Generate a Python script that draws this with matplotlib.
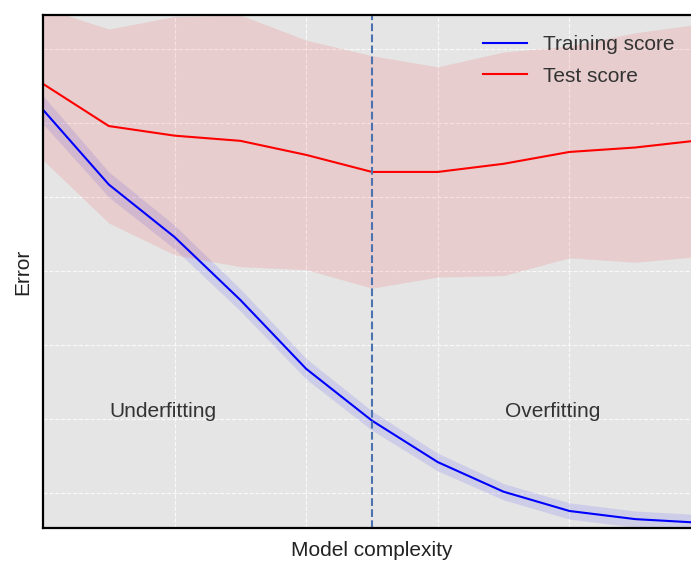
import numpy as np
import matplotlib
matplotlib.use('Agg')
import matplotlib.pyplot as plt

plt.rcParams['font.family'] = ['Liberation Sans', 'DejaVu Sans']

# model complexity steps
complexity = [0, 1, 2, 3, 4, 5, 6, 7, 8, 9, 10]

train_mean = [5.65, 4.64, 3.93, 3.08, 2.15, 1.45, 0.89, 0.49, 0.23, 0.12, 0.07]
train_std = [0.19, 0.17, 0.16, 0.15, 0.14, 0.13, 0.12, 0.11, 0.11, 0.11, 0.11]

test_mean = [6.00, 5.43, 5.30, 5.23, 5.04, 4.81, 4.81, 4.92, 5.08, 5.14, 5.24]
test_std = [1.03, 1.31, 1.61, 1.70, 1.55, 1.57, 1.42, 1.51, 1.43, 1.55, 1.57]

best = 5
grid_y = [0.47, 1.47, 2.47, 3.47, 4.47, 5.47, 6.47]
grid_x = [2, 4, 6, 8]

x = np.array(complexity)
tr = np.array(train_mean)
trs = np.array(train_std)
te = np.array(test_mean)
tes = np.array(test_std)

fig = plt.figure(figsize=(6.91, 5.61), dpi=100)
ax = fig.add_axes([43 / 691, 33 / 561, 658 / 691, 513 / 561])
ax.set_facecolor('#e5e5e5')

ax.fill_between(x, tr - trs, tr + trs, color='blue', alpha=0.1, lw=0)
ax.fill_between(x, te - tes, te + tes, color='red', alpha=0.1, lw=0)
ax.plot(x, tr, color='blue', lw=1.5, label='Training score')
ax.plot(x, te, color='red', lw=1.5, label='Test score')
ax.axvline(best, color='#4c72b0', ls='--', lw=1.5)

ax.text(1.83, 1.57, 'Underfitting', ha='center', va='center', fontsize=15, color='#333333')
ax.text(7.75, 1.57, 'Overfitting', ha='center', va='center', fontsize=15, color='#333333')

ax.set_xlim(0, 10)
ax.set_ylim(0, 6.93)
ax.set_xticks(grid_x)
ax.set_yticks(grid_y)
ax.tick_params(length=0, labelleft=False, labelbottom=False)
ax.grid(True, color='white', ls='--', lw=0.8, alpha=0.8)
ax.set_axisbelow(True)
for s in ax.spines.values():
    s.set_color('black')
    s.set_linewidth(1.6)

ax.set_xlabel('Model complexity', fontsize=15, color='#222222', labelpad=9)
ax.set_ylabel('Error', fontsize=15, color='#222222', labelpad=8)
ax.legend(loc='upper left', frameon=False, fontsize=15, labelcolor='#333333',
          bbox_to_anchor=(0.64, 0.997), handlelength=2.1, handletextpad=0.8,
          labelspacing=0.6)

fig.savefig('out.png', dpi=100)
